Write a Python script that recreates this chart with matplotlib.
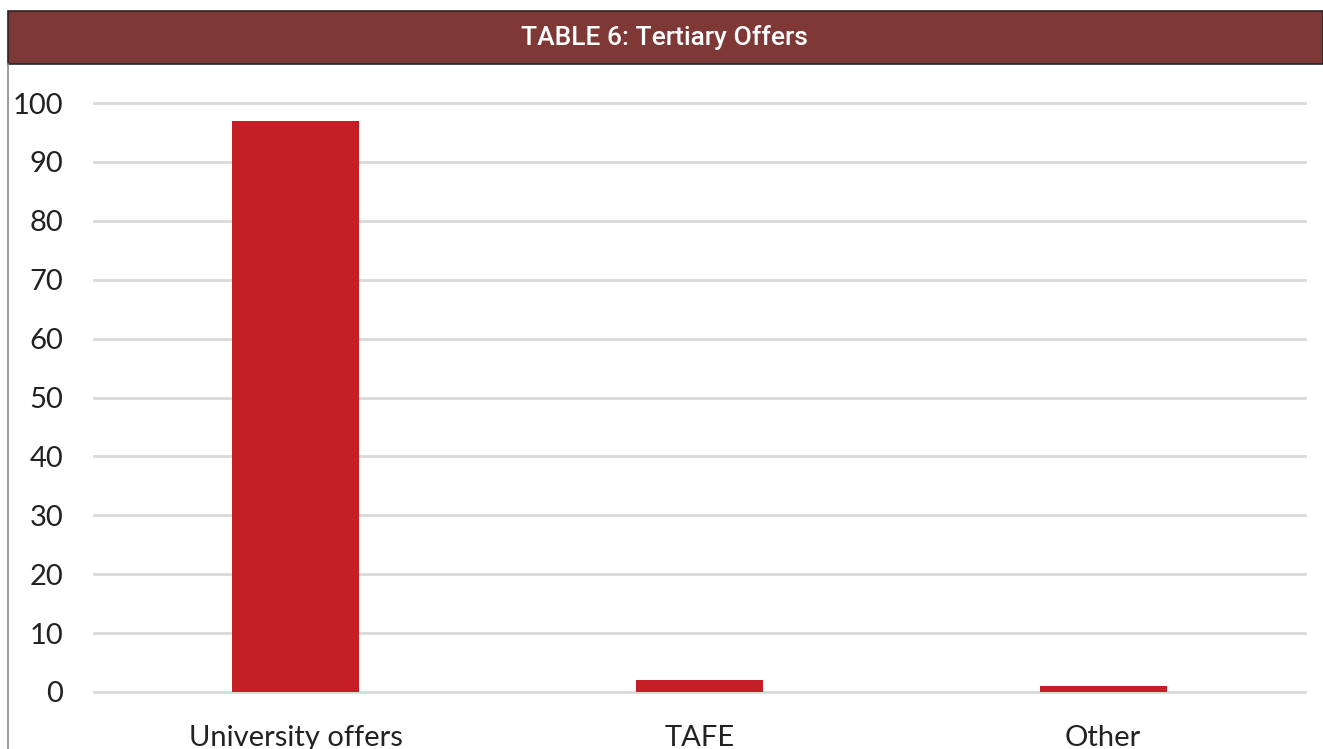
import matplotlib.pyplot as plt
from matplotlib.patches import Rectangle
from matplotlib.lines import Line2D

# 数据
categories = ['University offers', 'TAFE', 'Other']
values = [97, 2, 1]
yticks = [0, 10, 20, 30, 40, 50, 60, 70, 80, 90, 100]
title = 'TABLE 6: Tertiary Offers'

W, H = 1323, 749
fig = plt.figure(figsize=(W / 100, H / 100), dpi=100)
fig.patch.set_facecolor('white')

# 标题栏
fig.patches.append(Rectangle((8 / W, 1 - 64 / H), 1 - 8 / W, 53 / H,
                             transform=fig.transFigure, facecolor='#7e3835',
                             edgecolor='#2b2222', linewidth=1.2, zorder=1))
fig.text(664 / W, 1 - 38 / H, title, color='white', fontsize=19,
         fontweight='medium', family='Roboto', ha='center', va='center')

# 左边框
fig.lines.append(Line2D([8 / W, 8 / W], [0, 1 - 64 / H], transform=fig.transFigure,
                        color='#8a8a8a', linewidth=1.2))

# 坐标区：0 在 y=692，100 在 y=103
ax = fig.add_axes([94 / W, 1 - 692 / H, (1305 - 94) / W, (692 - 103) / H])
x = range(len(categories))
ax.bar(x, values, width=0.315, color='#c41f26', zorder=3)

ax.set_xlim(-0.5, len(categories) - 0.5)
ax.set_ylim(0, 100)
for t in yticks:
    ax.axhline(t, color='#d9d9d9', linewidth=2, zorder=1, clip_on=False)

for s in ax.spines.values():
    s.set_visible(False)
ax.set_yticks(yticks)
ax.set_yticklabels([str(t) for t in yticks], family='Lato', fontsize=21, color='#222222')
ax.tick_params(axis='y', length=0, pad=22)
ax.tick_params(axis='x', length=0, pad=24)
ax.set_xticks(list(x))
ax.set_xticklabels(categories, family='Lato', fontsize=21, color='#222222')

plt.savefig('out.png', dpi=100)
